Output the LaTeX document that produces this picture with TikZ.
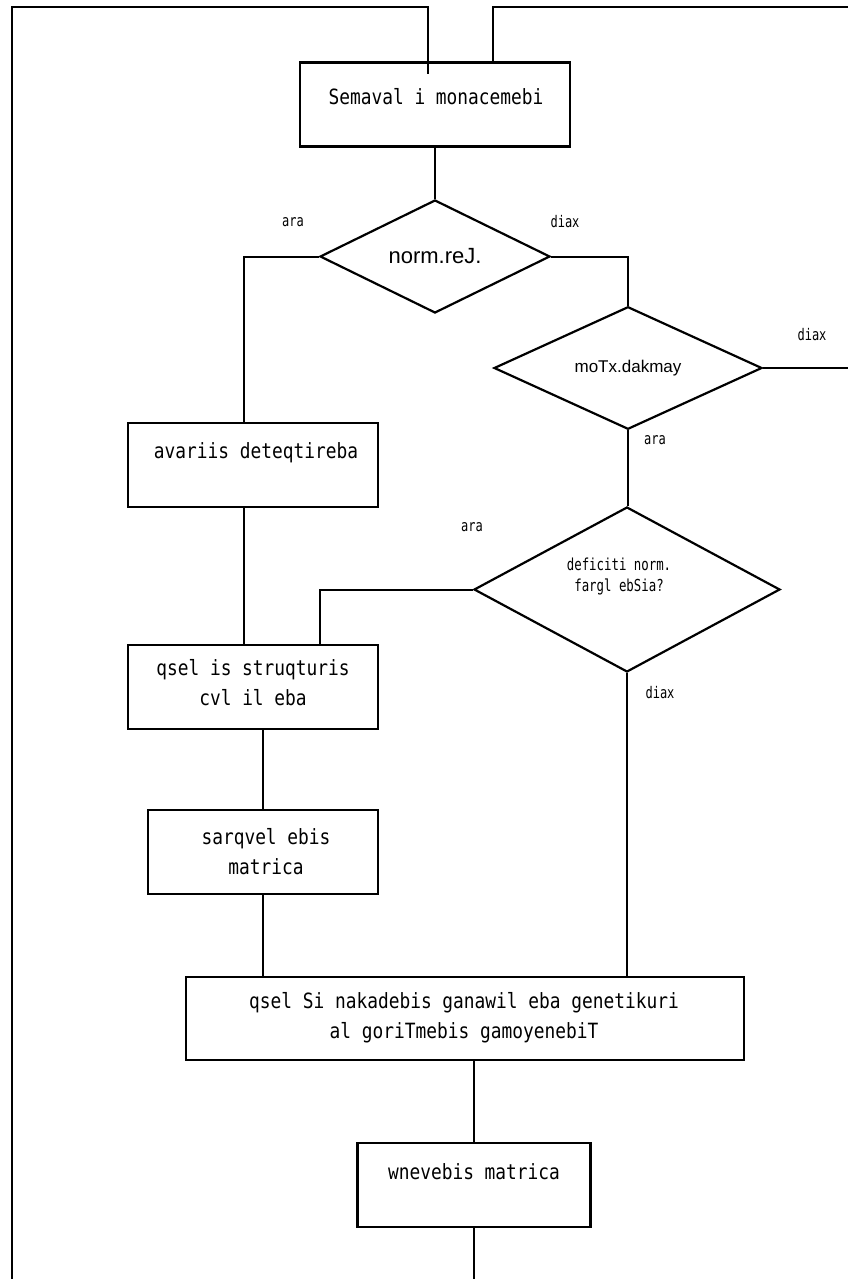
\documentclass[tikz,border=0pt]{standalone}
\usepackage{fontspec}
\usetikzlibrary{shapes.geometric}
\newfontfamily\boxfont{DejaVu Sans Mono}[FakeStretch=0.85]
\newfontfamily\narrowfont{DejaVu Sans Mono}[FakeStretch=0.75]
\newfontfamily\plainsans{Liberation Sans}

\begin{document}
\begin{tikzpicture}[x=1pt,y=-1pt,
  procbox/.style={draw, line width=2.2pt, minimum height=84pt, inner sep=0pt},
  decision/.style={draw, diamond, line width=2.2pt, inner sep=0pt},
  wire/.style={line width=2pt},
  boxtext/.style={inner sep=0pt, align=center, font=\boxfont\fontsize{21pt}{30pt}\selectfont},
  condtext/.style={inner sep=0pt, align=center, font=\narrowfont\fontsize{16.5pt}{21pt}\selectfont},
  branch/.style={inner sep=0pt, font=\narrowfont\fontsize{16pt}{18pt}\selectfont},
]
\fill[white] (0,0) rectangle (848,1279);
\useasboundingbox (0,0) rectangle (848,1279);

% process boxes
\node[procbox, minimum width=270pt] (b1) at (435,104.5) {};
\node[boxtext] (t1) at (436,97) {Semaval i monacemebi};

\node[procbox, minimum width=250pt] (b2) at (253,465) {};
\node[boxtext] (t2) at (256,453) {avariis deteqtireba};

\node[procbox, minimum width=250pt] (b3) at (253,687) {};
\node[boxtext] (t3) at (253,682.5) {qsel is struqturis\\cvl il eba};

\node[procbox, minimum width=230pt] (b4) at (263,852) {};
\node[boxtext] (t4) at (266,852) {sarqvel ebis\\matrica};

\node[procbox, minimum width=558pt, minimum height=83pt] (b5) at (465,1018.5) {};
\node[boxtext] (t5) at (464,1017.5) {qsel Si nakadebis ganawil eba genetikuri\\al goriTmebis gamoyenebiT};

\node[procbox, minimum width=233pt] (b6) at (474,1185) {};
\node[boxtext] (t6) at (474,1172) {wnevebis matrica};

% decisions
\node[decision, minimum width=230pt, minimum height=113pt,
      font=\plainsans\fontsize{22pt}{24pt}\selectfont] (d1) at (435,256.5) {norm.reJ.};
\node[decision, minimum width=268pt, minimum height=110pt,
      font=\plainsans\fontsize{17pt}{20pt}\selectfont] (d2) at (628,368) {moTx.dakmay};
\node[decision, minimum width=306pt, minimum height=165pt] (d3) at (627,589.5) {};
\node[condtext] (t7) at (619,576) {deficiti norm.\\fargl ebSia?};

% branch labels
\node[branch] (l1) at (293,222) {ara};
\node[branch] (l2) at (565,222) {diax};
\node[branch] (l3) at (812,335) {diax};
\node[branch] (l4) at (655,440) {ara};
\node[branch] (l5) at (472,527) {ara};
\node[branch] (l6) at (660,693) {diax};

% free ends of the loop lines
\coordinate (topL) at (12,7);
\coordinate (botL) at (12,1279);
\coordinate (inL) at (428,74);
\coordinate (topR) at (848,7);
\coordinate (exitR) at (848,368);
\coordinate (botEnd) at (474,1279);

% connectors
\draw[wire] (botL) -- (topL) -| (inL);
\draw[wire] ([xshift=58pt]b1.north) |- (topR);
\draw[wire] (b1.south) -- (d1.north);
\draw[wire] (d1.west) -| ([xshift=-9pt]b2.north);
\draw[wire] (d1.east) -| (d2.north);
\draw[wire] (d2.east) -- (exitR);
\draw[wire] (d2.south) -- (d2.south |- d3.north);
\draw[wire] ([xshift=-9pt]b2.south) -- ([xshift=-9pt]b2.south |- b3.north);
\draw[wire] (d3.west) -| ([xshift=67pt]b3.north);
\draw[wire] (b4.north) -- (b4.north |- b3.south);
\draw[wire] (b4.south) -- (b4.south |- b5.north);
\draw[wire] (d3.south) -- (d3.south |- b5.north);
\draw[wire] (b6.north) -- (b6.north |- b5.south);
\draw[wire] (b6.south) -- (botEnd);
\end{tikzpicture}
\end{document}
